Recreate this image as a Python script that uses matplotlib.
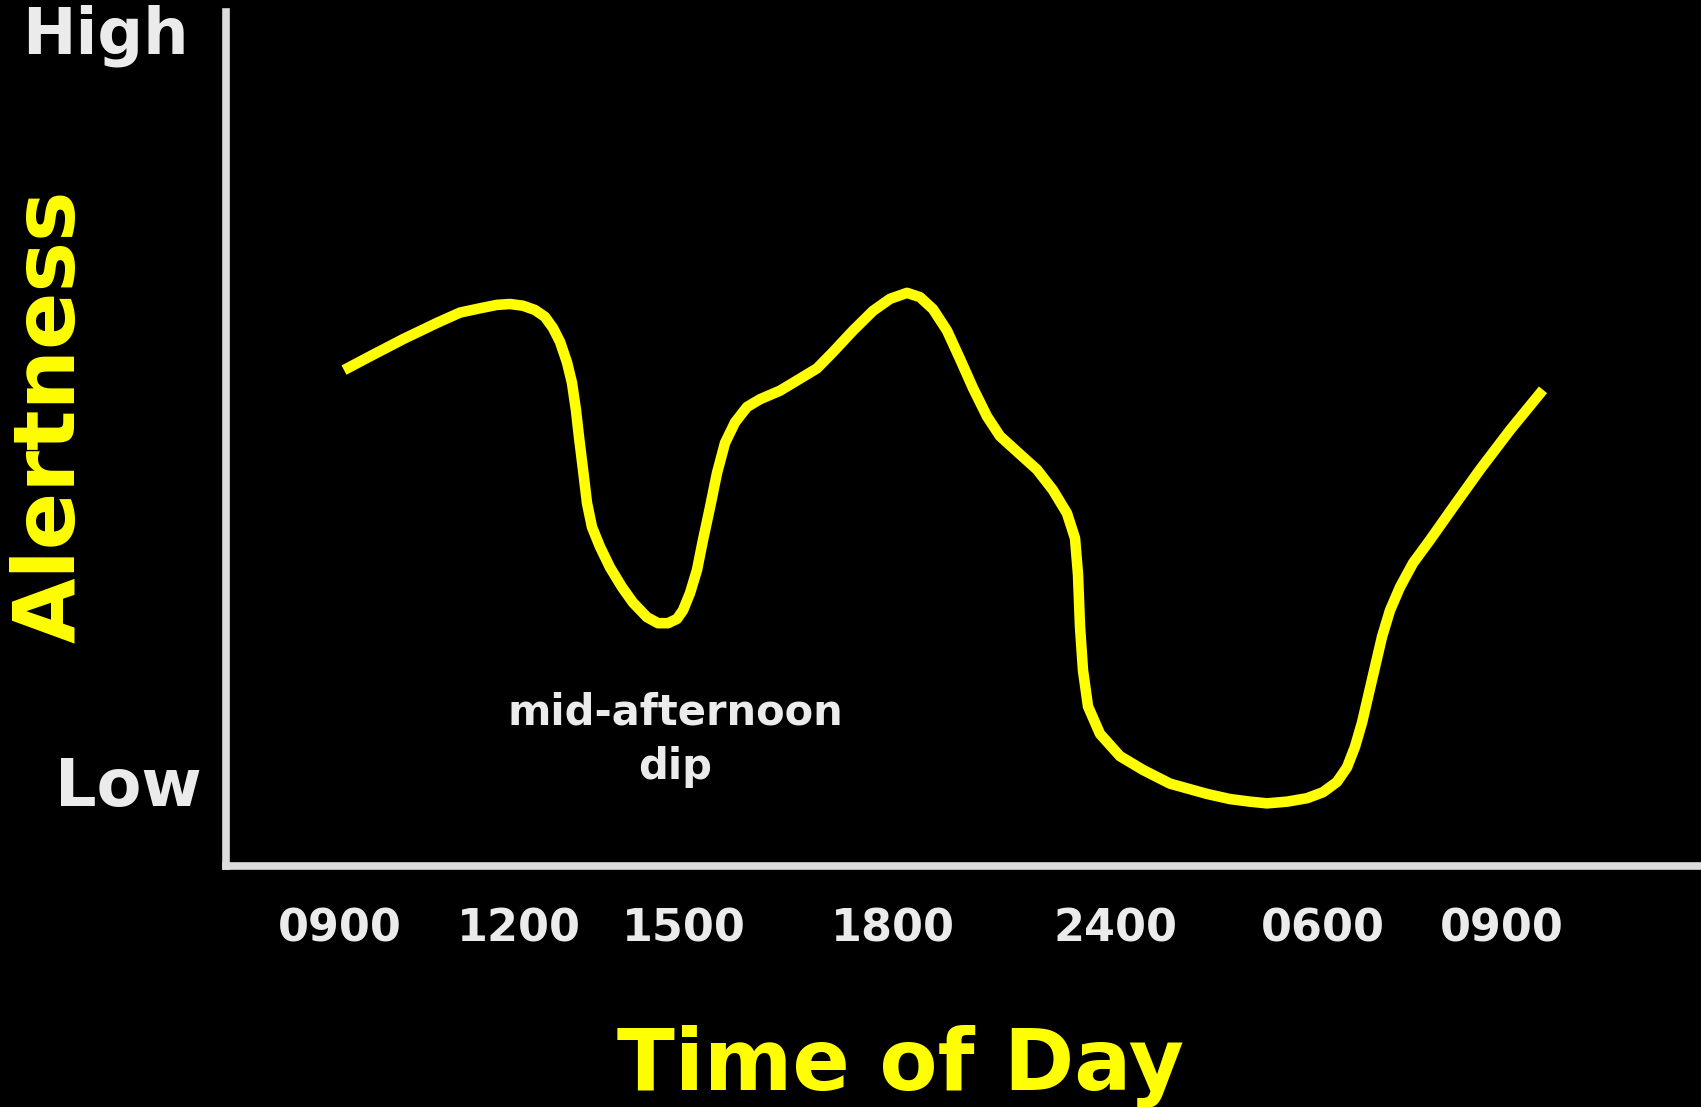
"""Alertness over the time of day, on a dark slide-style chart."""

import matplotlib

matplotlib.use("Agg")
import matplotlib.pyplot as plt

# positions along the time axis (axis units, not to scale) and alertness (0-100)
position = [
    118, 144, 177, 211, 234, 254, 271, 284, 297, 309, 319, 327, 334, 341, 346,
    350, 353, 357, 361, 366, 374, 384, 396, 407, 421, 432, 442, 451, 457, 464,
    471, 477, 484, 491, 499, 509, 521, 534, 554, 574, 591, 607, 627, 647, 664,
    681, 694, 707, 721, 734, 747, 761, 774, 791, 811, 827, 841, 849, 852, 854,
    857, 862, 874, 894, 917, 944, 981, 1004, 1024, 1041, 1061, 1081, 1097, 1111,
    1121, 1129, 1136, 1142, 1149, 1156, 1164, 1174, 1187, 1204, 1227, 1254, 1284,
    1317,
]
alertness = [
    57.8, 59.4, 61.4, 63.3, 64.5, 65.0, 65.4, 65.5, 65.3, 64.8, 64.0, 62.7, 61.1, 58.7, 56.3,
    53.1, 50.0, 46.2, 42.3, 39.5, 37.2, 34.8, 32.5, 30.7, 29.0, 28.3, 28.3, 28.8, 29.8, 31.8,
    34.5, 38.0, 41.8, 45.8, 49.3, 51.7, 53.5, 54.4, 55.4, 56.8, 58.0, 59.9, 62.4, 64.7, 66.1,
    66.8, 66.3, 64.9, 62.4, 59.1, 55.7, 52.4, 50.1, 48.3, 46.2, 43.8, 41.1, 38.2, 34.0, 27.9,
    22.8, 18.6, 15.4, 12.8, 11.2, 9.6, 8.4, 7.8, 7.5, 7.3, 7.5, 7.9, 8.6, 9.8,
    11.5, 13.9, 16.7, 19.7, 23.2, 26.7, 29.8, 32.5, 35.3, 38.0, 41.8, 46.2, 50.8,
    55.5,
]

tick_positions = [114, 293, 458, 667, 889, 1097, 1276]
tick_labels = ["0900", "1200", "1500", "1800", "2400", "0600", "0900"]
level_labels = ["High", "Low"]

YELLOW = "#ffff00"
LIGHT = "#ebebeb"
AXIS = "#dcdcdc"

W, H, DPI = 1701, 1107, 100
fig = plt.figure(figsize=(W / DPI, H / DPI), dpi=DPI, facecolor="black")
ax = fig.add_axes([226 / W, (H - 866) / H, (W - 226) / W, (866 - 12) / H])
ax.set_facecolor("black")

ax.plot(position, alertness, color=YELLOW, linewidth=7.6,
        solid_joinstyle="round", solid_capstyle="butt", clip_on=False)

ax.set_xlim(0, W - 226)
ax.set_ylim(0, (866 - 12) / 8.58)

for side in ("top", "right"):
    ax.spines[side].set_visible(False)
for side in ("left", "bottom"):
    ax.spines[side].set_color(AXIS)
    ax.spines[side].set_linewidth(5.5)

ax.set_xticks(tick_positions, tick_labels)
ax.set_yticks([])
ax.tick_params(axis="x", length=0, pad=30, colors=LIGHT, labelsize=32)
for label in ax.get_xticklabels():
    label.set_fontweight("bold")

# High / Low markers on the left of the vertical axis
fig.text(105 / W, 1 - 36 / H, level_labels[0], color=LIGHT, fontsize=46,
         fontweight="bold", ha="center", va="center")
fig.text(128 / W, 1 - 788 / H, level_labels[1], color=LIGHT, fontsize=47,
         fontweight="bold", ha="center", va="center")

ax.text(449, 14.7, "mid-afternoon\ndip", color=LIGHT, fontsize=30,
        fontweight="bold", ha="center", va="center", linespacing=1.4)

fig.text(900 / W, 1 - 1066 / H, "Time of Day", color=YELLOW, fontsize=61,
         fontweight="bold", ha="center", va="center")
fig.text(51 / W, 1 - 416 / H, "Alertness", color=YELLOW, fontsize=61,
         fontweight="bold", ha="center", va="center", rotation=90)

fig.savefig("out.png", dpi=DPI, facecolor="black")
